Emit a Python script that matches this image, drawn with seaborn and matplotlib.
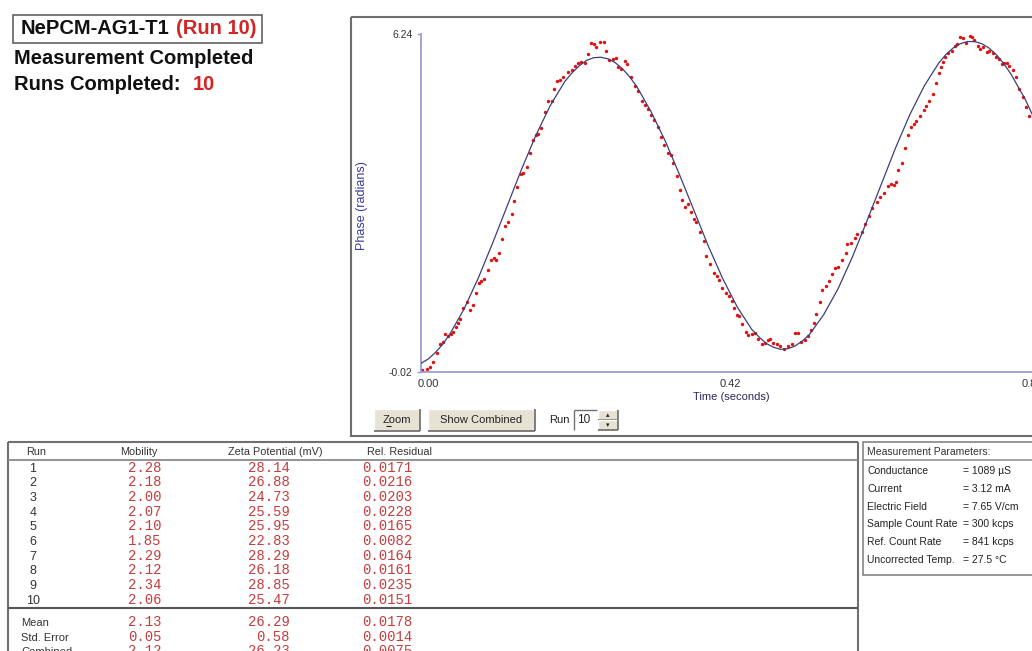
import matplotlib
matplotlib.use("Agg")
import matplotlib.pyplot as plt
import matplotlib.transforms as mtransforms
from matplotlib.lines import Line2D
from matplotlib.patches import Rectangle
import pandas as pd
import seaborn as sns

# ---------------- data ----------------
fit_time = [0.00, 0.01, 0.02, 0.03, 0.04, 0.06, 0.08, 0.10, 0.12, 0.14, 0.16, 0.18,
            0.20, 0.21, 0.22, 0.23, 0.24, 0.25, 0.26, 0.27, 0.28, 0.29, 0.30, 0.32,
            0.34, 0.36, 0.38, 0.40, 0.42, 0.44, 0.46, 0.47, 0.48, 0.49, 0.50, 0.51,
            0.52, 0.53, 0.54, 0.56, 0.58, 0.60, 0.62, 0.64, 0.66, 0.68, 0.70, 0.72,
            0.73, 0.74, 0.75, 0.76, 0.77, 0.78, 0.79, 0.80, 0.81, 0.82, 0.84, 0.86]
fit_phase = [0.14, 0.22, 0.34, 0.49, 0.68, 1.15, 1.73, 2.38, 3.06, 3.74, 4.37, 4.92,
             5.36, 5.52, 5.65, 5.75, 5.80, 5.81, 5.78, 5.71, 5.60, 5.45, 5.27, 4.80,
             4.25, 3.62, 2.96, 2.30, 1.70, 1.18, 0.77, 0.63, 0.51, 0.44, 0.40, 0.41,
             0.46, 0.55, 0.67, 1.04, 1.52, 2.11, 2.77, 3.45, 4.13, 4.75, 5.28, 5.70,
             5.86, 5.98, 6.06, 6.10, 6.10, 6.06, 5.98, 5.86, 5.70, 5.51, 5.04, 4.47]

dot_time = [0.001, 0.008, 0.013, 0.017, 0.022, 0.026, 0.031, 0.034, 0.038, 0.042,
            0.045, 0.048, 0.052, 0.054, 0.059, 0.064, 0.068, 0.073, 0.076, 0.080,
            0.084, 0.088, 0.093, 0.097, 0.101, 0.104, 0.108, 0.113, 0.117, 0.121,
            0.126, 0.130, 0.134, 0.139, 0.142, 0.147, 0.152, 0.156, 0.160, 0.163,
            0.167, 0.172, 0.177, 0.182, 0.185, 0.189, 0.193, 0.198, 0.205,
            0.210, 0.214, 0.219, 0.223, 0.228, 0.232, 0.237, 0.241, 0.244, 0.249,
            0.254, 0.257, 0.262, 0.267, 0.271, 0.274, 0.278, 0.284, 0.287, 0.292,
            0.298, 0.302, 0.307, 0.311, 0.316, 0.320, 0.324, 0.329, 0.334, 0.338,
            0.343, 0.348, 0.351, 0.356, 0.360, 0.363, 0.367, 0.371, 0.376, 0.380,
            0.383, 0.388, 0.393, 0.397, 0.402, 0.407, 0.411, 0.414,
            0.419, 0.424, 0.428, 0.432, 0.436, 0.439, 0.442, 0.447, 0.452, 0.455,
            0.460, 0.465, 0.469, 0.474, 0.478, 0.483, 0.485, 0.490, 0.495, 0.499,
            0.505, 0.511, 0.516, 0.520, 0.524, 0.529, 0.534, 0.538, 0.543, 0.546,
            0.550, 0.555, 0.558, 0.563, 0.567, 0.571, 0.576, 0.580, 0.585, 0.591,
            0.593, 0.598, 0.603, 0.607, 0.613, 0.618, 0.623, 0.627,
            0.634, 0.639, 0.644, 0.649, 0.653, 0.658, 0.661, 0.664, 0.669, 0.673,
            0.678, 0.681, 0.686, 0.689, 0.694, 0.699, 0.702, 0.707, 0.712, 0.716,
            0.720, 0.723, 0.726, 0.729, 0.733, 0.738, 0.743, 0.746, 0.750, 0.754,
            0.758, 0.763, 0.766, 0.769, 0.774, 0.777, 0.782, 0.787, 0.790, 0.795,
            0.800, 0.804, 0.808, 0.811, 0.815, 0.818, 0.823, 0.828, 0.832, 0.837,
            0.841, 0.846]
dot_phase = [0.02, 0.03, 0.08, 0.17, 0.34, 0.50, 0.54, 0.68, 0.65, 0.68,
             0.73, 0.82, 0.88, 0.97, 1.16, 1.28, 1.13, 1.22, 1.44, 1.62,
             1.67, 1.70, 1.86, 2.05, 2.09, 2.05, 2.18, 2.44, 2.68, 2.76,
             2.91, 3.15, 3.41, 3.65, 3.67, 3.77, 4.04, 4.28, 4.37, 4.39,
             4.49, 4.80, 4.99, 5.00, 5.22, 5.37, 5.39, 5.45, 5.54,
             5.57, 5.65, 5.71, 5.73, 5.70, 5.87, 6.08, 6.05, 6.00, 6.10,
             6.10, 5.93, 5.75, 5.77, 5.80, 5.63, 5.60, 5.74, 5.68, 5.45,
             5.28, 5.18, 4.99, 4.92, 4.86, 4.74, 4.65, 4.52, 4.34, 4.18,
             4.03, 4.00, 3.85, 3.61, 3.36, 3.17, 3.04, 3.09, 2.95, 2.81,
             2.75, 2.58, 2.41, 2.13, 1.98, 1.82, 1.75, 1.68,
             1.53, 1.44, 1.38, 1.30, 1.16, 1.04, 1.02, 0.87, 0.73, 0.67,
             0.68, 0.71, 0.60, 0.50, 0.52, 0.57, 0.60, 0.51, 0.50, 0.46,
             0.40, 0.46, 0.50, 0.71, 0.71, 0.54, 0.57, 0.65, 0.76, 0.88,
             1.05, 1.28, 1.50, 1.57, 1.67, 1.80, 1.90, 1.93, 2.05, 2.19,
             2.35, 2.36, 2.47, 2.54, 2.58, 2.73, 2.86, 3.01,
             3.13, 3.23, 3.29, 3.42, 3.47, 3.44, 3.49, 3.72, 3.86, 4.12,
             4.37, 4.52, 4.57, 4.63, 4.72, 4.83, 4.91, 5.00, 5.13, 5.33,
             5.51, 5.63, 5.73, 5.82, 5.88, 5.93, 6.02, 6.05, 6.19, 6.16,
             6.08, 6.20, 6.19, 6.12, 6.02, 5.97, 5.99, 5.91, 5.93, 5.89,
             5.82, 5.77, 5.68, 5.70, 5.71, 5.65, 5.57, 5.45, 5.23, 5.08,
             4.89, 4.72]

x_ticks = [0.00, 0.42, 0.84]
x_tick_labels = ["0.00", "0.42", "0.84"]
y_ticks = [-0.02, 6.24]
y_tick_labels = ["-0.02", "6.24"]

runs = ["1", "2", "3", "4", "5", "6", "7", "8", "9", "10"]
mobility = ["2.28", "2.18", "2.00", "2.07", "2.10", "1.85", "2.29", "2.12", "2.34", "2.06"]
zeta = ["28.14", "26.88", "24.73", "25.59", "25.95", "22.83", "28.29", "26.18", "28.85", "25.47"]
residual = ["0.0171", "0.0216", "0.0203", "0.0228", "0.0165", "0.0082", "0.0164", "0.0161", "0.0235", "0.0151"]
summary_labels = ["Mean", "Std. Error", "Combined"]
summary_mobility = ["2.13", "0.05", "2.12"]
summary_zeta = ["26.29", "0.58", "26.23"]
summary_residual = ["0.0178", "0.0014", "0.0075"]
table_headers = ["Run", "Mobility", "Zeta Potential (mV)", "Rel. Residual"]

param_labels = ["Conductance", "Current", "Electric Field", "Sample Count Rate",
                "Ref. Count Rate", "Uncorrected Temp."]
param_values = ["= 1089 \u00b5S", "= 3.12 mA", "= 7.65 V/cm", "= 300 kcps",
                "= 841 kcps", "= 27.5 \u00b0C"]

# ---------------- style ----------------
sns.set_theme(style="white")
plt.rcParams["font.family"] = ["Liberation Sans", "DejaVu Sans"]

W, H = 1032, 651
fig = plt.figure(figsize=(W / 100, H / 100), dpi=100)
fig.patch.set_facecolor("white")


def fx(x):
    return x / W


def fy(y):
    return 1 - y / H


def text(x, y, s, **kw):
    kw.setdefault("va", "center")
    return fig.text(fx(x), fy(y), s, **kw)


def hline(x0, x1, y, color="#808080", lw=1.0):
    fig.add_artist(Line2D([fx(x0), fx(x1)], [fy(y), fy(y)], color=color, lw=lw,
                          transform=fig.transFigure, solid_capstyle="butt"))


def vline(x, y0, y1, color="#808080", lw=1.0):
    fig.add_artist(Line2D([fx(x), fx(x)], [fy(y0), fy(y1)], color=color, lw=lw,
                          transform=fig.transFigure, solid_capstyle="butt"))


def rect(x0, y0, x1, y1, fc="white", ec="#808080", lw=1.0, z=1):
    fig.add_artist(Rectangle((fx(x0), fy(y1)), (x1 - x0) / W, (y1 - y0) / H,
                             transform=fig.transFigure, facecolor=fc, edgecolor=ec,
                             lw=lw, zorder=z))


def button(x0, y0, x1, y1):
    rect(x0, y0, x1, y1, fc="#e6e3d5", ec="none", lw=0)
    hline(x0, x1, y0, "#ffffff", 1.0)
    vline(x0, y0, y1, "#ffffff", 1.0)
    hline(x0, x1, y1, "#6a6a6a", 1.2)
    vline(x1, y0, y1, "#6a6a6a", 1.2)


RED = "#d42424"
VAL_RED = "#c83c3c"

# ---------------- header text ----------------
rect(13, 15, 262, 43, fc="white", ec="#555555", lw=1.1)
text(21, 29, "NePCM-AG1-T1", fontsize=14.5, fontweight="bold", color="#111111")
text(176, 29, "(Run 10)", fontsize=14.5, fontweight="bold", color=RED, ha="left")
text(14, 59, "Measurement Completed", fontsize=14.5, fontweight="bold", color="#111111")
text(14, 84, "Runs Completed:", fontsize=14.5, fontweight="bold", color="#111111")
text(193, 84, "10", fontsize=14.5, fontweight="bold", color=RED)

# ---------------- plot panel frame ----------------
hline(351, 1032, 17, "#6e6e6e", 1.5)
vline(351, 17, 437, "#6e6e6e", 1.5)
hline(351, 1032, 436, "#6e6e6e", 1.5)

# ---------------- chart ----------------
ax = fig.add_axes([fx(421), fy(372), (W - 421) / W, (372 - 34) / H])
ax.set_facecolor("none")
dots_df = pd.DataFrame({"time": dot_time, "phase": dot_phase})
fit_df = pd.DataFrame({"time": fit_time, "phase": fit_phase})
sns.scatterplot(data=dots_df, x="time", y="phase", ax=ax, color="#e01010",
                s=6, linewidth=0, zorder=2)
sns.lineplot(data=fit_df, x="time", y="phase", ax=ax, color="#3c4078",
             lw=0.9, sort=False, estimator=None, zorder=3)
ax.set_xlim(0, (W - 421) / 719)
ax.set_ylim(-0.02, 6.24)
for side in ("top", "right"):
    ax.spines[side].set_visible(False)
for side in ("left", "bottom"):
    ax.spines[side].set_color("#9c9cd2")
    ax.spines[side].set_linewidth(1.3)
ax.set_xticks(x_ticks)
ax.set_xticklabels(x_tick_labels)
ax.set_yticks(y_ticks)
ax.set_yticklabels(y_tick_labels)
ax.tick_params(axis="x", length=0, pad=5, labelsize=8, labelcolor="#333333")
ax.tick_params(axis="y", length=3, width=1, color="#9c9cd2", pad=3,
               labelsize=7.5, labelcolor="#333333", left=True)
offset = mtransforms.ScaledTranslation(7 / 100, 0, fig.dpi_scale_trans)
for lab in ax.get_xticklabels():
    lab.set_transform(lab.get_transform() + offset)
ax.set_xlabel("Time (seconds)", fontsize=8, color="#2a2a5a")
ax.xaxis.set_label_coords((731 - 421) / (W - 421), (372 - 397) / 338)
ax.xaxis.label.set_va("center")
ax.set_ylabel("Phase (radians)", fontsize=9, color="#3a3aa0")
ax.yaxis.set_label_coords((362 - 421) / (W - 421), (372 - 206) / 338)
ax.yaxis.label.set_va("center")

# ---------------- buttons ----------------
button(374, 409, 420, 431)
text(397, 420, "Zoom", fontsize=8, color="#222222", ha="center")
hline(386, 391, 426, "#222222", 0.8)
button(428, 409, 535, 431)
text(481.5, 420, "Show Combined", fontsize=8, color="#222222", ha="center")
text(549, 420, "Run", fontsize=8, color="#222222")
rect(574, 410, 597, 430, fc="white", ec="none", lw=0)
hline(574, 597, 410, "#707070", 1.0)
vline(574, 410, 430, "#707070", 1.0)
text(577, 420, "10", fontsize=8.5, color="#222222")
button(598, 410, 618, 420)
button(598, 420, 618, 430)
text(608, 415, "\u25b4", fontsize=5, color="#222222", ha="center", family="DejaVu Sans")
text(608, 425, "\u25be", fontsize=5, color="#222222", ha="center", family="DejaVu Sans")

# ---------------- results table ----------------
hline(8, 858, 442, "#707070", 1.5)
vline(8, 442, 651, "#707070", 1.5)
vline(858, 442, 651, "#707070", 1.5)
hline(8, 858, 460, "#8a8a8a", 1.3)
hline(8, 858, 608, "#555555", 1.5)

hdr_x = [36, 120, 228, 367]
hdr_ha = ["center", "left", "left", "left"]
for hx, ha, h in zip(hdr_x, hdr_ha, table_headers):
    text(hx, 452, h, fontsize=7.8, color="#333333", ha=ha)

mono = dict(family="Liberation Mono", fontsize=10, color=VAL_RED, va="baseline")
for i in range(len(runs)):
    yb = 467.3 + i * 14.67 + 4.3
    text(33, yb, runs[i], fontsize=9, color="#333333", ha="center", va="baseline")
    text(128, yb, mobility[i], ha="left", **mono)
    text(290, yb, zeta[i], ha="right", **mono)
    text(362, yb, residual[i], ha="left", **mono)

for j, lbl in enumerate(summary_labels):
    yb = 622 + j * 14.3 + 4.3
    text(21, yb, lbl, fontsize=8, color="#333333", ha="left", va="baseline")
    text(128, yb, summary_mobility[j], ha="left", **mono)
    text(290, yb, summary_zeta[j], ha="right", **mono)
    text(362, yb, summary_residual[j], ha="left", **mono)

# ---------------- measurement parameters ----------------
rect(863, 442, 1040, 575, fc="white", ec="#7a7a7a", lw=1.1)
hline(863, 1032, 460, "#8a8a8a", 1.1)
text(867, 452, "Measurement Parameters:", fontsize=7.5, color="#333333")
for k, (lbl, val) in enumerate(zip(param_labels, param_values)):
    y = 471 + k * 17.8
    text(867, y, lbl, fontsize=7.5, color="#222222")
    text(963, y, val, fontsize=7.5, color="#222222")

fig.savefig("out.png", dpi=100)
